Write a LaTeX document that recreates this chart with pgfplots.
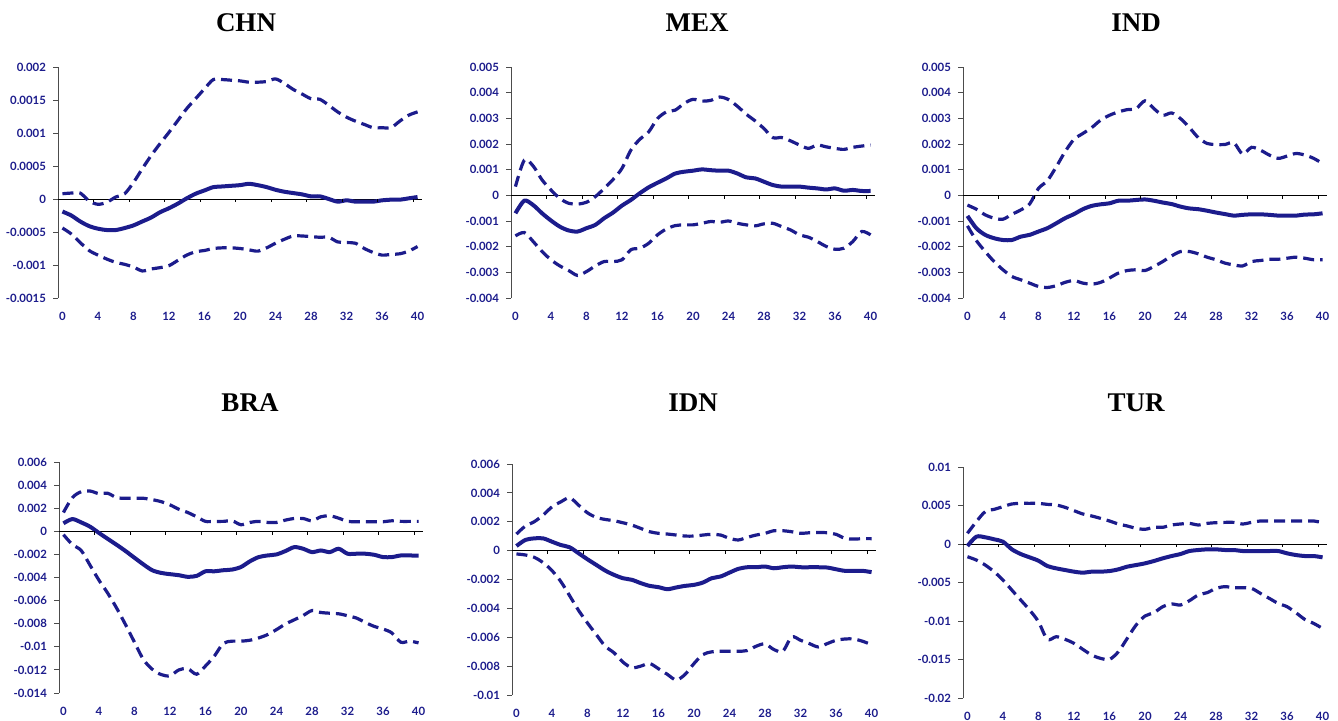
\documentclass[border=0pt]{standalone}
\usepackage{fontspec}
\usepackage{pgfplots}
\usepackage{pgfplotstable}
\pgfplotsset{compat=1.18}
\newfontfamily\tickfont{Lato}
\newfontfamily\titlefont{Liberation Serif}
\definecolor{irfblue}{RGB}{28,28,140}

% columns: horizon, upper band, response, lower band
\pgfplotstableread{
k up mid lo
0 0.00008 -0.00019 -0.00044
1 0.00009 -0.00025 -0.00053
2 0.00009 -0.00034 -0.00066
3 -0.00003 -0.00041 -0.00078
4 -0.00008 -0.00045 -0.00085
5 -0.00005 -0.00047 -0.00091
6 0.00003 -0.00047 -0.00096
7 0.00008 -0.00044 -0.00099
8 0.00025 -0.00040 -0.00103
9 0.00046 -0.00034 -0.00109
10 0.00066 -0.00028 -0.00106
11 0.00084 -0.00020 -0.00104
12 0.00101 -0.00014 -0.00101
13 0.00119 -0.00007 -0.00093
14 0.00137 0.00001 -0.00085
15 0.00152 0.00008 -0.00080
16 0.00167 0.00013 -0.00078
17 0.00181 0.00018 -0.00075
18 0.00181 0.00019 -0.00074
19 0.00180 0.00020 -0.00074
20 0.00179 0.00021 -0.00075
21 0.00177 0.00023 -0.00077
22 0.00177 0.00021 -0.00079
23 0.00178 0.00018 -0.00074
24 0.00182 0.00014 -0.00067
25 0.00175 0.00011 -0.00061
26 0.00166 0.00009 -0.00056
27 0.00159 0.00007 -0.00056
28 0.00152 0.00004 -0.00057
29 0.00151 0.00004 -0.00058
30 0.00142 0.00000 -0.00058
31 0.00132 -0.00004 -0.00065
32 0.00124 -0.00002 -0.00066
33 0.00118 -0.00004 -0.00067
34 0.00113 -0.00004 -0.00075
35 0.00108 -0.00004 -0.00081
36 0.00108 -0.00002 -0.00085
37 0.00108 -0.00001 -0.00084
38 0.00118 -0.00001 -0.00083
39 0.00127 0.00001 -0.00079
40 0.00132 0.00003 -0.00072
}\chn

\pgfplotstableread{
k up mid lo
0 0.00034 -0.00070 -0.00158
1 0.00137 -0.00021 -0.00145
2 0.00114 -0.00038 -0.00180
3 0.00060 -0.00070 -0.00219
4 0.00021 -0.00098 -0.00251
5 -0.00012 -0.00122 -0.00275
6 -0.00031 -0.00137 -0.00293
7 -0.00034 -0.00141 -0.00312
8 -0.00027 -0.00128 -0.00297
9 -0.00005 -0.00115 -0.00275
10 0.00027 -0.00089 -0.00258
11 0.00062 -0.00067 -0.00258
12 0.00105 -0.00040 -0.00251
13 0.00176 -0.00018 -0.00212
14 0.00218 0.00008 -0.00206
15 0.00247 0.00031 -0.00187
16 0.00299 0.00049 -0.00154
17 0.00325 0.00066 -0.00131
18 0.00332 0.00085 -0.00118
19 0.00358 0.00092 -0.00115
20 0.00374 0.00096 -0.00115
21 0.00367 0.00101 -0.00109
22 0.00370 0.00098 -0.00102
23 0.00383 0.00096 -0.00105
24 0.00373 0.00096 -0.00100
25 0.00347 0.00085 -0.00109
26 0.00316 0.00070 -0.00115
27 0.00290 0.00066 -0.00119
28 0.00260 0.00053 -0.00111
29 0.00225 0.00040 -0.00109
30 0.00225 0.00034 -0.00122
31 0.00212 0.00034 -0.00135
32 0.00196 0.00034 -0.00154
33 0.00183 0.00030 -0.00163
34 0.00196 0.00027 -0.00180
35 0.00189 0.00023 -0.00199
36 0.00183 0.00027 -0.00210
37 0.00179 0.00018 -0.00206
38 0.00187 0.00021 -0.00180
39 0.00192 0.00017 -0.00141
40 0.00196 0.00017 -0.00154
}\mex

\pgfplotstableread{
k up mid lo
0 -0.00038 -0.00080 -0.00119
1 -0.00054 -0.00128 -0.00176
2 -0.00076 -0.00154 -0.00219
3 -0.00089 -0.00167 -0.00258
4 -0.00093 -0.00174 -0.00290
5 -0.00074 -0.00174 -0.00316
6 -0.00057 -0.00161 -0.00329
7 -0.00034 -0.00154 -0.00342
8 0.00027 -0.00141 -0.00355
9 0.00057 -0.00128 -0.00359
10 0.00111 -0.00109 -0.00352
11 0.00170 -0.00089 -0.00339
12 0.00218 -0.00073 -0.00332
13 0.00241 -0.00054 -0.00342
14 0.00264 -0.00041 -0.00346
15 0.00293 -0.00035 -0.00339
16 0.00312 -0.00031 -0.00322
17 0.00325 -0.00021 -0.00303
18 0.00334 -0.00021 -0.00293
19 0.00338 -0.00018 -0.00290
20 0.00368 -0.00016 -0.00293
21 0.00338 -0.00021 -0.00277
22 0.00312 -0.00028 -0.00258
23 0.00321 -0.00034 -0.00236
24 0.00299 -0.00044 -0.00219
25 0.00264 -0.00051 -0.00219
26 0.00225 -0.00054 -0.00228
27 0.00202 -0.00060 -0.00241
28 0.00198 -0.00067 -0.00251
29 0.00198 -0.00073 -0.00264
30 0.00205 -0.00079 -0.00271
31 0.00161 -0.00076 -0.00275
32 0.00187 -0.00074 -0.00258
33 0.00176 -0.00074 -0.00254
34 0.00157 -0.00076 -0.00249
35 0.00144 -0.00079 -0.00249
36 0.00153 -0.00079 -0.00245
37 0.00163 -0.00079 -0.00241
38 0.00157 -0.00075 -0.00245
39 0.00144 -0.00074 -0.00251
40 0.00124 -0.00070 -0.00251
}\ind

\pgfplotstableread{
k up mid lo
0 0.00163 0.00069 -0.00029
1 0.00291 0.00106 -0.00114
2 0.00343 0.00077 -0.00166
3 0.00349 0.00040 -0.00294
4 0.00326 -0.00014 -0.00423
5 0.00329 -0.00066 -0.00537
6 0.00291 -0.00117 -0.00666
7 0.00286 -0.00171 -0.00809
8 0.00286 -0.00229 -0.00960
9 0.00286 -0.00286 -0.01109
10 0.00274 -0.00337 -0.01194
11 0.00257 -0.00360 -0.01240
12 0.00229 -0.00371 -0.01251
13 0.00191 -0.00380 -0.01200
14 0.00163 -0.00394 -0.01189
15 0.00126 -0.00386 -0.01237
16 0.00086 -0.00346 -0.01166
17 0.00086 -0.00346 -0.01080
18 0.00086 -0.00337 -0.00971
19 0.00091 -0.00331 -0.00951
20 0.00057 -0.00309 -0.00951
21 0.00077 -0.00260 -0.00943
22 0.00086 -0.00223 -0.00923
23 0.00077 -0.00209 -0.00894
24 0.00077 -0.00200 -0.00851
25 0.00097 -0.00171 -0.00803
26 0.00111 -0.00137 -0.00766
27 0.00111 -0.00151 -0.00729
28 0.00091 -0.00180 -0.00686
29 0.00126 -0.00166 -0.00703
30 0.00134 -0.00180 -0.00709
31 0.00114 -0.00151 -0.00714
32 0.00086 -0.00194 -0.00731
33 0.00083 -0.00194 -0.00751
34 0.00083 -0.00194 -0.00789
35 0.00083 -0.00203 -0.00823
36 0.00083 -0.00223 -0.00846
37 0.00091 -0.00223 -0.00880
38 0.00086 -0.00209 -0.00960
39 0.00086 -0.00209 -0.00951
40 0.00086 -0.00211 -0.00966
}\bra

\pgfplotstableread{
k up mid lo
0 0.00115 0.00032 -0.00023
1 0.00170 0.00074 -0.00030
2 0.00200 0.00085 -0.00046
3 0.00246 0.00085 -0.00083
4 0.00303 0.00062 -0.00138
5 0.00338 0.00039 -0.00214
6 0.00366 0.00023 -0.00313
7 0.00315 -0.00018 -0.00414
8 0.00262 -0.00060 -0.00501
9 0.00230 -0.00099 -0.00582
10 0.00216 -0.00138 -0.00662
11 0.00207 -0.00168 -0.00708
12 0.00193 -0.00191 -0.00772
13 0.00177 -0.00202 -0.00811
14 0.00154 -0.00225 -0.00800
15 0.00131 -0.00244 -0.00782
16 0.00120 -0.00253 -0.00818
17 0.00115 -0.00267 -0.00857
18 0.00108 -0.00255 -0.00896
19 0.00101 -0.00244 -0.00857
20 0.00101 -0.00237 -0.00782
21 0.00108 -0.00221 -0.00720
22 0.00113 -0.00191 -0.00701
23 0.00108 -0.00179 -0.00697
24 0.00085 -0.00152 -0.00697
25 0.00074 -0.00126 -0.00697
26 0.00092 -0.00115 -0.00692
27 0.00108 -0.00115 -0.00662
28 0.00120 -0.00110 -0.00646
29 0.00138 -0.00122 -0.00685
30 0.00138 -0.00115 -0.00697
31 0.00131 -0.00110 -0.00598
32 0.00120 -0.00115 -0.00621
33 0.00124 -0.00115 -0.00644
34 0.00126 -0.00115 -0.00667
35 0.00124 -0.00117 -0.00644
36 0.00113 -0.00129 -0.00621
37 0.00085 -0.00140 -0.00612
38 0.00080 -0.00140 -0.00612
39 0.00083 -0.00140 -0.00628
40 0.00083 -0.00149 -0.00651
}\idn

\pgfplotstableread{
k up mid lo
0 0.00139 -0.00026 -0.00165
1 0.00290 0.00095 -0.00208
2 0.00420 0.00087 -0.00273
3 0.00450 0.00061 -0.00359
4 0.00485 0.00030 -0.00468
5 0.00520 -0.00069 -0.00598
6 0.00528 -0.00130 -0.00727
7 0.00528 -0.00173 -0.00857
8 0.00528 -0.00217 -0.01009
9 0.00515 -0.00286 -0.01238
10 0.00507 -0.00316 -0.01204
11 0.00476 -0.00338 -0.01238
12 0.00433 -0.00359 -0.01290
13 0.00390 -0.00372 -0.01368
14 0.00364 -0.00359 -0.01442
15 0.00333 -0.00359 -0.01485
16 0.00299 -0.00351 -0.01498
17 0.00260 -0.00329 -0.01399
18 0.00234 -0.00294 -0.01225
19 0.00204 -0.00273 -0.01052
20 0.00191 -0.00251 -0.00935
21 0.00217 -0.00221 -0.00892
22 0.00217 -0.00186 -0.00814
23 0.00247 -0.00156 -0.00779
24 0.00260 -0.00130 -0.00792
25 0.00268 -0.00091 -0.00736
26 0.00247 -0.00078 -0.00662
27 0.00268 -0.00069 -0.00632
28 0.00277 -0.00069 -0.00576
29 0.00281 -0.00078 -0.00554
30 0.00281 -0.00078 -0.00567
31 0.00260 -0.00091 -0.00567
32 0.00281 -0.00091 -0.00576
33 0.00299 -0.00091 -0.00641
34 0.00299 -0.00091 -0.00706
35 0.00299 -0.00091 -0.00771
36 0.00299 -0.00121 -0.00814
37 0.00299 -0.00143 -0.00892
38 0.00299 -0.00156 -0.00979
39 0.00299 -0.00156 -0.01031
40 0.00277 -0.00173 -0.01096
}\tur

\pgfplotsset{
  irf/.style={
    scale only axis, width=182pt, height=115.5pt,
    anchor=north west,
    xmin=-0.5, xmax=40.5,
    axis y line*=left, axis x line*=bottom,
    x axis line style={draw=none},
    y axis line style={draw=black!70, line width=0.5pt, -},
    xtick={0,4,...,40}, xtick style={draw=none},
    ytick style={draw=black!70, line width=0.5pt},
    tick align=outside, major tick length=2.5pt,
    scaled y ticks=false,
    /pgf/number format/assume math mode=true,
    ticklabel style={font=\tickfont\bfseries\fontsize{5.7}{6}\selectfont, text=irfblue},
    xticklabel style={yshift=-1pt},
    extra y ticks={0}, extra y tick labels={},
    extra y tick style={grid=major, major grid style={black, line width=0.5pt}, major tick length=0pt},
    clip=false,
  },
  mid/.style={irfblue, line width=2pt, smooth, no marks},
  band/.style={irfblue, line width=1.6pt, smooth, no marks, dash pattern=on 5.5pt off 3pt},
}
\newcommand\zeroticks{\pgfplotsinvokeforeach{3.5,7.5,...,39.5}{\draw[black, line width=0.5pt] (axis cs:##1,0) -- ([yshift=-1.6pt]axis cs:##1,0);}}
\newcommand\paneltitle[2]{\node[font=\titlefont\bfseries\fontsize{13.5}{15}\selectfont, anchor=base] at (#1) {#2};}

\begin{document}
\begin{tikzpicture}
\path[use as bounding box] (0,0) rectangle (669pt,-360pt);

\paneltitle{123pt,-15.85pt}{CHN}
\paneltitle{348.5pt,-15.85pt}{MEX}
\paneltitle{568pt,-15.85pt}{IND}
\paneltitle{125pt,-205.5pt}{BRA}
\paneltitle{346.5pt,-205.5pt}{IDN}
\paneltitle{568pt,-205.5pt}{TUR}

\begin{axis}[irf, at={(29pt,-33.5pt)},
  ymin=-0.0015, ymax=0.002,
  ytick={-0.0015,-0.001,-0.0005,0,0.0005,0.001,0.0015,0.002},
  yticklabels={-0.0015,-0.001,-0.0005,0,0.0005,0.001,0.0015,0.002}]
\addplot[band] table[x=k,y=up]{\chn};
\addplot[mid] table[x=k,y=mid]{\chn};
\addplot[band] table[x=k,y=lo]{\chn};
\zeroticks
\end{axis}

\begin{axis}[irf, at={(255.5pt,-33.5pt)},
  ymin=-0.004, ymax=0.005,
  ytick={-0.004,-0.003,-0.002,-0.001,0,0.001,0.002,0.003,0.004,0.005},
  yticklabels={-0.004,-0.003,-0.002,-0.001,0,0.001,0.002,0.003,0.004,0.005}]
\addplot[band] table[x=k,y=up]{\mex};
\addplot[mid] table[x=k,y=mid]{\mex};
\addplot[band] table[x=k,y=lo]{\mex};
\zeroticks
\end{axis}

\begin{axis}[irf, at={(481.5pt,-33.5pt)},
  ymin=-0.004, ymax=0.005,
  ytick={-0.004,-0.003,-0.002,-0.001,0,0.001,0.002,0.003,0.004,0.005},
  yticklabels={-0.004,-0.003,-0.002,-0.001,0,0.001,0.002,0.003,0.004,0.005}]
\addplot[band] table[x=k,y=up]{\ind};
\addplot[mid] table[x=k,y=mid]{\ind};
\addplot[band] table[x=k,y=lo]{\ind};
\zeroticks
\end{axis}

\begin{axis}[irf, at={(29.5pt,-231pt)},
  ymin=-0.014, ymax=0.006,
  ytick={-0.014,-0.012,-0.01,-0.008,-0.006,-0.004,-0.002,0,0.002,0.004,0.006},
  yticklabels={-0.014,-0.012,-0.01,-0.008,-0.006,-0.004,-0.002,0,0.002,0.004,0.006}]
\addplot[band] table[x=k,y=up]{\bra};
\addplot[mid] table[x=k,y=mid]{\bra};
\addplot[band] table[x=k,y=lo]{\bra};
\zeroticks
\end{axis}

\begin{axis}[irf, at={(256pt,-232pt)},
  ymin=-0.01, ymax=0.006,
  ytick={-0.01,-0.008,-0.006,-0.004,-0.002,0,0.002,0.004,0.006},
  yticklabels={-0.01,-0.008,-0.006,-0.004,-0.002,0,0.002,0.004,0.006}]
\addplot[band] table[x=k,y=up]{\idn};
\addplot[mid] table[x=k,y=mid]{\idn};
\addplot[band] table[x=k,y=lo]{\idn};
\zeroticks
\end{axis}

\begin{axis}[irf, at={(481.5pt,-233.5pt)},
  ymin=-0.02, ymax=0.01,
  ytick={-0.02,-0.015,-0.01,-0.005,0,0.005,0.01},
  yticklabels={-0.02,-0.015,-0.01,-0.005,0,0.005,0.01}]
\addplot[band] table[x=k,y=up]{\tur};
\addplot[mid] table[x=k,y=mid]{\tur};
\addplot[band] table[x=k,y=lo]{\tur};
\zeroticks
\end{axis}
\end{tikzpicture}
\end{document}
